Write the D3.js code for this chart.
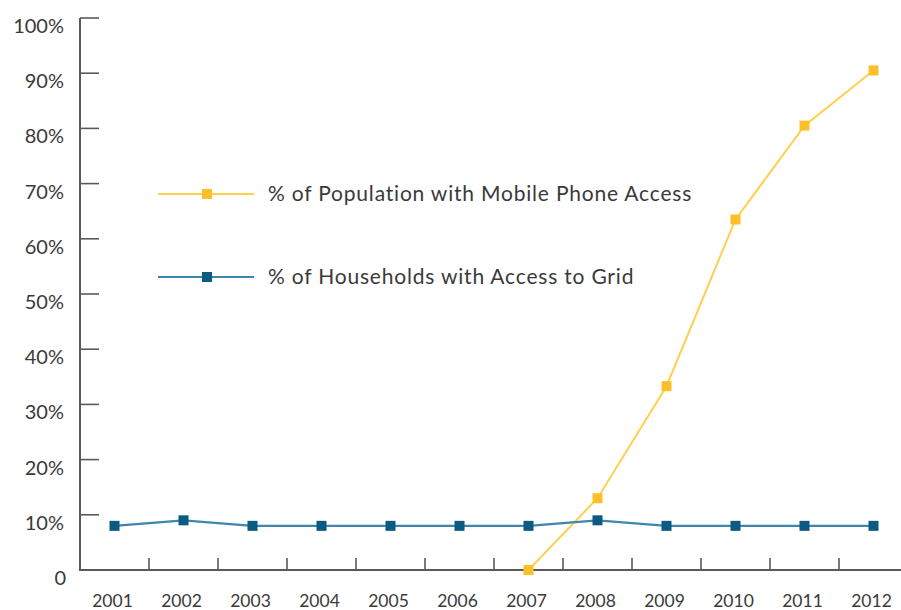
<!DOCTYPE html>
<html>
<head>
<meta charset="utf-8">
<script src="https://cdn.jsdelivr.net/npm/d3@7"></script>
<style>
  html, body { margin: 0; padding: 0; background: #fff; }
  svg { display: block; }
  text { font-family: Lato, "Open Sans", sans-serif; fill: #3a3a3a; }
</style>
</head>
<body>
<svg id="chart" width="901" height="610"></svg>
<script>
const years = ["2001","2002","2003","2004","2005","2006","2007","2008","2009","2010","2011","2012"];
const mobileValues = [null, null, null, null, null, null, 0, 13, 33.3, 63.5, 80.5, 90.5];
const gridValues = [8, 9, 8, 8, 8, 8, 8, 9, 8, 8, 8, 8];
const yTickValues = [0, 10, 20, 30, 40, 50, 60, 70, 80, 90, 100];
const yTickLabels = ["0", "10%", "20%", "30%", "40%", "50%", "60%", "70%", "80%", "90%", "100%"];
const seriesNames = ["% of Population with Mobile Phone Access", "% of Households with Access to Grid"];

const svg = d3.select("#chart");
const mLeft = 80, mRight = 908, mTop = 18, mBottom = 570;

const x = d3.scaleBand().domain(years).range([mLeft, mRight]);
const y = d3.scaleLinear().domain([0, 100]).range([mBottom, mTop]);

const axisColor = "#5a5a5a";

svg.append("line").attr("x1", mLeft).attr("x2", mLeft).attr("y1", mTop).attr("y2", mBottom)
  .attr("stroke", axisColor).attr("stroke-width", 2);
svg.append("line").attr("x1", mLeft - 1).attr("x2", 901).attr("y1", mBottom).attr("y2", mBottom)
  .attr("stroke", axisColor).attr("stroke-width", 2);

yTickValues.forEach((v, i) => {
  if (v > 0) {
    svg.append("line").attr("x1", mLeft).attr("x2", mLeft + 19)
      .attr("y1", y(v)).attr("y2", y(v))
      .attr("stroke", axisColor).attr("stroke-width", 1.6);
  }
  svg.append("text").attr("x", v === 0 ? 66 : 64).attr("y", y(v) + 10)
    .attr("text-anchor", "end").attr("dominant-baseline", "middle")
    .attr("font-size", 20).text(yTickLabels[i]);
});

years.forEach((yr, i) => {
  if (i > 0) {
    const xb = x(yr);
    svg.append("line").attr("x1", xb).attr("x2", xb).attr("y1", mBottom).attr("y2", mBottom - 12)
      .attr("stroke", axisColor).attr("stroke-width", 1.6);
  }
  svg.append("text").attr("x", x(yr) + x.bandwidth() / 2 - 2).attr("y", 603)
    .attr("text-anchor", "middle").attr("dominant-baseline", "middle")
    .attr("font-size", 17.5).text(yr);
});

const cx = d => x(d.year) + x.bandwidth() / 2;
const line = d3.line().defined(d => d.v !== null).x(cx).y(d => y(d.v));

const series = [
  { name: seriesNames[0], values: mobileValues, line: "#ffcf4f", marker: "#fdc02a", lw: 2 },
  { name: seriesNames[1], values: gridValues, line: "#3f86ad", marker: "#0b5a82", lw: 2.2 }
];

series.forEach(s => {
  const data = years.map((yr, i) => ({ year: yr, v: s.values[i] }));
  svg.append("path").datum(data).attr("d", line)
    .attr("fill", "none").attr("stroke", s.line).attr("stroke-width", s.lw);
  svg.selectAll(null).data(data.filter(d => d.v !== null)).enter().append("rect")
    .attr("x", d => cx(d) - 5).attr("y", d => y(d.v) - 5)
    .attr("width", 10).attr("height", 10).attr("fill", s.marker);
});

const legendY = [194, 277];
series.forEach((s, i) => {
  const g = svg.append("g");
  g.append("line").attr("x1", 158).attr("x2", 254).attr("y1", legendY[i]).attr("y2", legendY[i])
    .attr("stroke", s.line).attr("stroke-width", 2);
  g.append("rect").attr("x", 202).attr("y", legendY[i] - 5).attr("width", 10).attr("height", 10)
    .attr("fill", s.marker);
  g.append("text").attr("x", 268).attr("y", legendY[i] + 2).attr("dominant-baseline", "middle")
    .attr("font-size", 21).attr("letter-spacing", 0.8).text(s.name);
});
</script>
</body>
</html>
